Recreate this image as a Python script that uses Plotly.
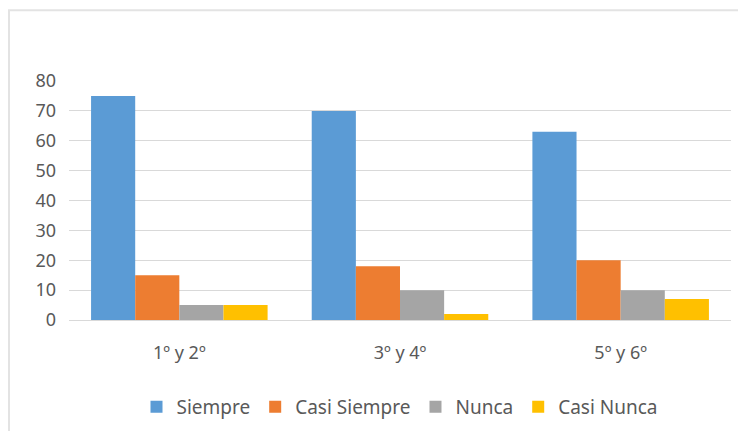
import plotly.graph_objects as go

categories = ["1º y 2º", "3º y 4º", "5º y 6º"]
series_names = ["Siempre", "Casi Siempre", "Nunca", "Casi Nunca"]
siempre = [75, 70, 63]
casi_siempre = [15, 18, 20]
nunca = [5, 10, 10]
casi_nunca = [5, 2, 7]
y_ticks = [0, 10, 20, 30, 40, 50, 60, 70, 80]

colors = ["#5B9BD5", "#ED7D31", "#A5A5A5", "#FFC000"]
values = [siempre, casi_siempre, nunca, casi_nunca]

fig = go.Figure()
for name, vals, col in zip(series_names, values, colors):
    fig.add_trace(go.Bar(x=categories, y=vals, name=name,
                         marker=dict(color=col, line=dict(width=0))))

fam = "Noto Sans, Open Sans, sans-serif"
tick_font = dict(family=fam, size=18, color="#595959")
legend_font = dict(family=fam, size=19, color="#595959")

fig.update_layout(
    width=730, height=423,
    margin=dict(l=61, r=7, t=73, b=110),
    paper_bgcolor="white", plot_bgcolor="white",
    barmode="group", bargap=0.2, bargroupgap=0,
    font=tick_font,
    showlegend=True,
    legend=dict(orientation="h", x=0.5, xanchor="center", y=-0.358, yanchor="middle",
                font=legend_font, tracegroupgap=0),
    xaxis=dict(showgrid=False, showline=True, linecolor="#D9D9D9", linewidth=1,
               ticks="", ticklabelstandoff=16, tickfont=tick_font),
    yaxis=dict(range=[0, 80], tickvals=y_ticks, showgrid=True, gridcolor="#D9D9D9",
               gridwidth=1, zeroline=False, showline=False, ticks="",
               ticklabelstandoff=12, tickfont=tick_font),
    shapes=[dict(type="rect", xref="paper", yref="paper",
                 x0=-0.0906, x1=1.05, y0=-0.6, y1=1.296,
                 line=dict(color="#E3E3E3", width=2), fillcolor="rgba(0,0,0,0)",
                 layer="below")],
)
fig.write_html("out.html")
